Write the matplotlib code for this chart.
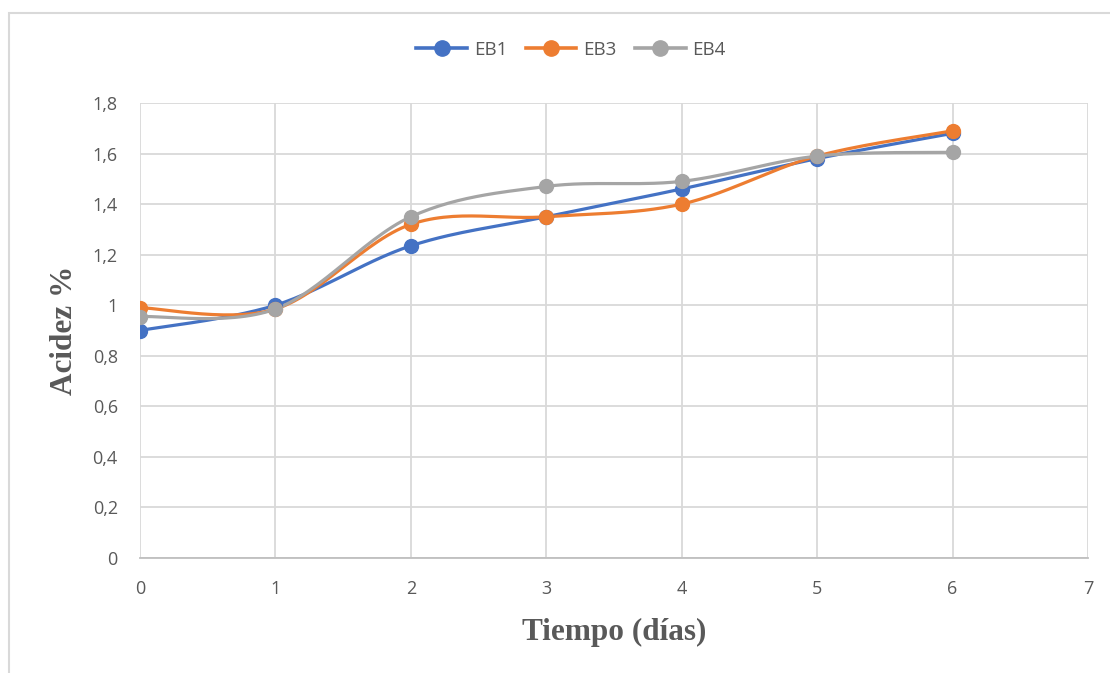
import numpy as np
import matplotlib
matplotlib.use("Agg")
import matplotlib.pyplot as plt
from matplotlib.lines import Line2D
from matplotlib.patches import Rectangle

# datos de acidez por dia
dias = [0, 1, 2, 3, 4, 5, 6]
eb1 = [0.90, 1.00, 1.235, 1.35, 1.46, 1.58, 1.68]
eb3 = [0.99, 0.985, 1.32, 1.35, 1.40, 1.59, 1.69]
eb4 = [0.955, 0.985, 1.35, 1.47, 1.49, 1.59, 1.605]
series = [("EB1", eb1, "#4472C4"), ("EB3", eb3, "#ED7D31"), ("EB4", eb4, "#A5A5A5")]

y_ticks = [0, 0.2, 0.4, 0.6, 0.8, 1.0, 1.2, 1.4, 1.6, 1.8]
x_ticks = [0, 1, 2, 3, 4, 5, 6, 7]

GRIS_TXT = "#595959"
GRID = "#d9d9d9"


def suavizar(x, y, n=30):
    # curva tipo Catmull-Rom con segmentos Bezier (linea suavizada)
    x = np.asarray(x, float)
    y = np.asarray(y, float)
    pts = np.column_stack([x, y])
    out = []
    for i in range(len(pts) - 1):
        p0 = pts[i - 1] if i > 0 else pts[i]
        p1 = pts[i]
        p2 = pts[i + 1]
        p3 = pts[i + 2] if i + 2 < len(pts) else pts[i + 1]
        c1 = p1 + (p2 - p0) / 6
        c2 = p2 - (p3 - p1) / 6
        t = np.linspace(0, 1, n)[:, None]
        seg = ((1 - t) ** 3) * p1 + 3 * ((1 - t) ** 2) * t * c1 + 3 * (1 - t) * t ** 2 * c2 + t ** 3 * p2
        out.append(seg if i == 0 else seg[1:])
    seg = np.vstack(out)
    return seg[:, 0], seg[:, 1]


fig = plt.figure(figsize=(11.1, 6.73), dpi=100)
ax = fig.add_axes([140 / 1110, 1 - 558 / 673, (1088 - 140) / 1110, (558 - 103) / 673])

# marco del grafico
fig.patches.append(Rectangle((9 / 1110, -0.01), 1.0, 1 - 13 / 673 + 0.01, transform=fig.transFigure,
                             fill=False, edgecolor="#d9d9d9", linewidth=1.5))

for nombre, vals, color in series:
    xs, ys = suavizar(dias, vals)
    ax.plot(xs, ys, color=color, linewidth=2.3, solid_capstyle="round", zorder=3)
    ax.plot(dias, vals, "o", color=color, markersize=10, zorder=4)

ax.set_xlim(0, 7)
ax.set_ylim(0, 1.8)
ax.set_xticks(x_ticks)
ax.set_yticks(y_ticks)
ax.set_xticklabels([str(v) for v in x_ticks])
ax.set_yticklabels([("%g" % v).replace(".", ",") for v in y_ticks])
ax.tick_params(length=0, labelsize=13, labelcolor=GRIS_TXT)
for lbl in ax.get_xticklabels() + ax.get_yticklabels():
    lbl.set_family("Open Sans")
ax.tick_params(axis="y", pad=16)
ax.tick_params(axis="x", pad=16)

ax.grid(True, color=GRID, linewidth=1.3)
ax.set_axisbelow(True)
for s in ["top", "right", "left"]:
    ax.spines[s].set_visible(False)
ax.spines["bottom"].set_color("#bfbfbf")
ax.spines["bottom"].set_linewidth(1.3)

ax.set_xlabel("Tiempo (días)", family="Liberation Serif", fontweight="bold",
              fontsize=22.5, color=GRIS_TXT, labelpad=14)
ax.set_ylabel("Acidez %", family="Liberation Serif", fontweight="bold",
              fontsize=22.5, color=GRIS_TXT, labelpad=10)

handles = [Line2D([], [], color=c, linewidth=2.6, marker="o", markersize=11) for _, _, c in series]
fig.legend(handles, [n for n, _, _ in series], loc="center", bbox_to_anchor=(571 / 1110, 1 - 50 / 673),
           ncol=3, frameon=False, prop={"family": "Open Sans", "size": 13.5}, labelcolor=GRIS_TXT,
           handlelength=2.7, columnspacing=1.0, handletextpad=0.35)

fig.savefig("out.png", dpi=100)
